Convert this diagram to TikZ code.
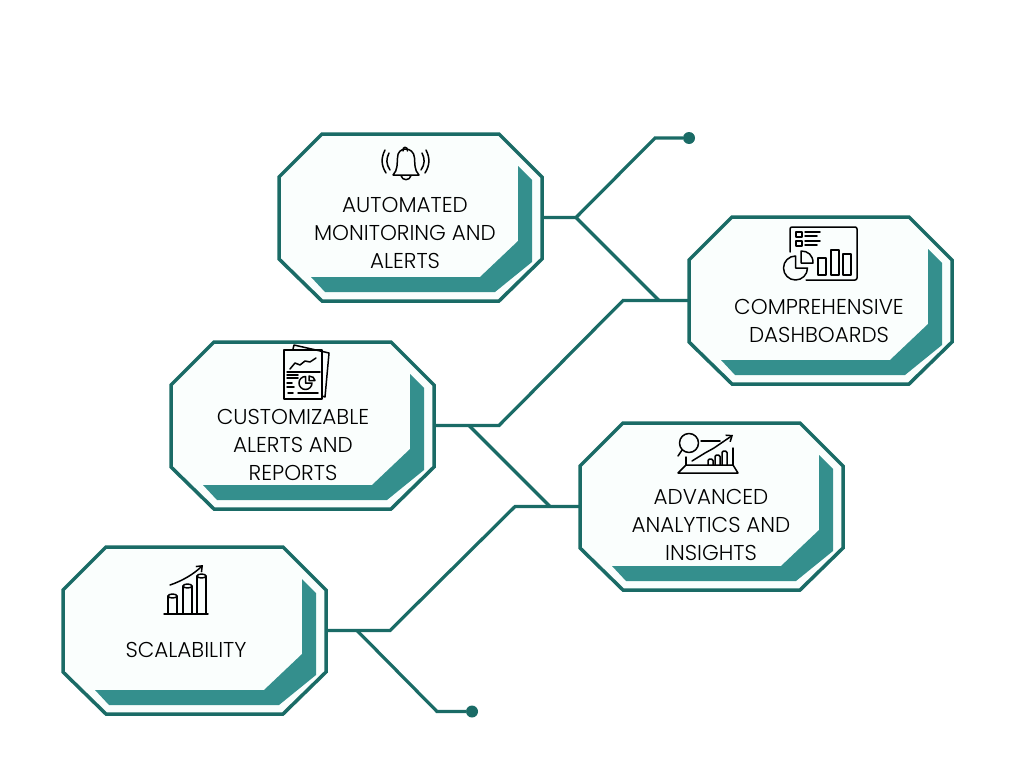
\documentclass[tikz,border=0pt]{standalone}
\usepackage{fontspec}
\setmainfont{Poppins Light}
\usetikzlibrary{arrows.meta}

\definecolor{darkteal}{HTML}{1A6B66}
\definecolor{midteal}{HTML}{348F8D}
\definecolor{cardfill}{HTML}{FAFEFD}

\tikzset{
    wire/.style={draw=darkteal, line width=3.2pt},
    enddot/.style={circle, fill=darkteal, inner sep=0pt, minimum size=12pt},
    cardtext/.style={align=center, font=\fontsize{21.5}{28}\selectfont, inner sep=0pt},
    icon/.style={draw=black, line width=1.5pt, line cap=round, line join=round},
    card/.pic={
        \path[fill=cardfill, draw=darkteal, line width=3.5pt]
            (43,0) -- (220,0) -- (263,43) -- (263,125) -- (220,167) -- (43,167) -- (0,125) -- (0,43) -- cycle;
        \fill[midteal] (239,32) -- (253,46) -- (253,128) -- (216,158) -- (46,158) -- (32,143) -- (201,143) -- (239,107) -- cycle;
        \node[minimum width=263pt, minimum height=167pt, inner sep=0pt, outer sep=0pt] (-box) at (131.5,83.5) {};
    }
}

\begin{document}
\begin{tikzpicture}[x=1pt, y=-1pt]
    \useasboundingbox (0,0) rectangle (1024,768);

    \pic (monitor) at (279,134) {card};
    \pic (dash) at (689,217) {card};
    \pic (custom) at (171,342) {card};
    \pic (analytics) at (580,423) {card};
    \pic (scale) at (63,547) {card};

    \node[cardtext] (monitortext) at (405,233) {AUTOMATED\\MONITORING AND\\ALERTS};
    \node[cardtext] (dashtext) at (819,321) {COMPREHENSIVE\\DASHBOARDS};
    \node[cardtext] (customtext) at (293,445) {CUSTOMIZABLE\\ALERTS AND\\REPORTS};
    \node[cardtext] (analyticstext) at (711,525) {ADVANCED\\ANALYTICS AND\\INSIGHTS};
    \node[cardtext] (scaletext) at (186,650) {SCALABILITY};

    \node[enddot] (topdot) at (689,138) {};
    \node[enddot] (bottomdot) at (472,711.5) {};
    \coordinate (topfork) at (576,217.5);
    \coordinate (midfork) at (469,425.5);
    \coordinate (lowfork) at (357,630.5);

    % connectors
    \draw[wire] (monitor-box.east) -- (topfork) -- (655,138) -- (topdot);
    \draw[wire] (topfork) -- (659,300.5);
    \draw[wire] (dash-box.west) -- (623,300.5) -- (499,425.5) -- (custom-box.east);
    \draw[wire] (midfork) -- (550,506.5);
    \draw[wire] (analytics-box.west) -- (515,506.5) -- (390,630.5) -- (scale-box.east);
    \draw[wire] (lowfork) -- (437,711.5) -- (bottomdot);

    % bell
    \draw[icon] (393,175) -- (419,175) .. controls (414,170) and (415,163) .. (414.5,158)
        .. controls (414,146) and (397,146) .. (397.5,158) .. controls (397,163) and (398,170) .. (393,175);
    \draw[icon] (403,151) .. controls (402,146) and (408,146) .. (407.5,151);
    \draw[icon] (401,175.5) .. controls (402,181) and (410,181) .. (411,175.5);
    \draw[icon] (389,153) .. controls (386,159) and (386,164) .. (390,170);
    \draw[icon] (385,150) .. controls (381,158) and (381,165) .. (386,173);
    \draw[icon] (422,153) .. controls (425,159) and (425,164) .. (421,170);
    \draw[icon] (426,150) .. controls (430,158) and (430,165) .. (425,173);

    % dashboard
    \draw[icon, rounded corners=2pt] (790,252) -- (790,227) -- (857,227) -- (857,280) -- (806,280);
    \draw[icon] (796,232) rectangle (802,237);
    \draw[icon] (796,241) rectangle (802,246);
    \draw[icon] (805,232) -- (820,232) (805,236) -- (817,236) (805,241) -- (820,241) (805,245) -- (817,245);
    \draw[icon, fill=cardfill] (795.5,256) -- (795.5,268) -- (807.5,268) arc[start angle=0, delta angle=-270, radius=12pt] -- cycle;
    \draw[icon, fill=cardfill] (801,251) -- (801,263) -- (813,263) .. controls (813,255) and (808,251) .. (801,251);
    \draw[icon] (818,258) rectangle (826,275);
    \draw[icon] (831,250) rectangle (839,275);
    \draw[icon] (843,254) rectangle (851,275);

    % report sheets
    \draw[icon] (293,349) -- (294,345) -- (329,353) -- (325,397) -- (322,396);
    \draw[icon] (284,350) rectangle (322,399);
    \draw[icon] (290,369) -- (295,363) -- (300,365) -- (305,361) -- (310,362) -- (316,358);
    \draw[icon] (287,372) -- (320,372);
    \draw[icon] (287,375) -- (298,375) (287,378) -- (298,378) (287,383) -- (292,383) (287,387) -- (294,387);
    \draw[icon] (305.5,376.5) -- (305.5,383) -- (312,383) arc[start angle=0, delta angle=-270, radius=6.5pt] -- cycle;
    \draw[icon] (309,376) -- (309,380.5) -- (315,380.5) .. controls (315,378) and (312,376) .. (309,376);
    \draw[icon] (288,393) -- (293,393) (298,393) -- (318,393);

    % analytics laptop
    \draw[icon] (689,443) circle[radius=9.5pt];
    \draw[icon] (682,450) -- (678,456);
    \draw[icon] (701,441) -- (720,441);
    \draw[icon] (686,457) -- (686,465) (733,448) -- (733,465);
    \draw[icon] (686,465) -- (733,465) -- (738,473) -- (678,473) -- cycle;
    \draw[icon, -{Straight Barb[length=5pt, width=8pt]}] (692,461) -- (705,453) -- (714,448) -- (733,435);
    \foreach \barx/\bartop in {708/459, 715/455, 722/451} {
        \draw[icon, rounded corners=1.5pt] (\barx,465) -- (\barx,\bartop) -- (\barx+5,\bartop) -- (\barx+5,465);
    }

    % scale bars
    \draw[icon] (164,614) -- (208,614);
    \foreach \barx/\bartop in {168/596, 183/586, 197/576} {
        \draw[icon] (\barx,614) -- (\barx,\bartop) (\barx+9,614) -- (\barx+9,\bartop);
        \draw[icon] (\barx+4.5,\bartop) ellipse[x radius=4.5pt, y radius=2pt];
    }
    \draw[icon, -{Straight Barb[length=5pt, width=8pt]}] (170,585) .. controls (182,581) and (194,574) .. (203,565);
\end{tikzpicture}
\end{document}
